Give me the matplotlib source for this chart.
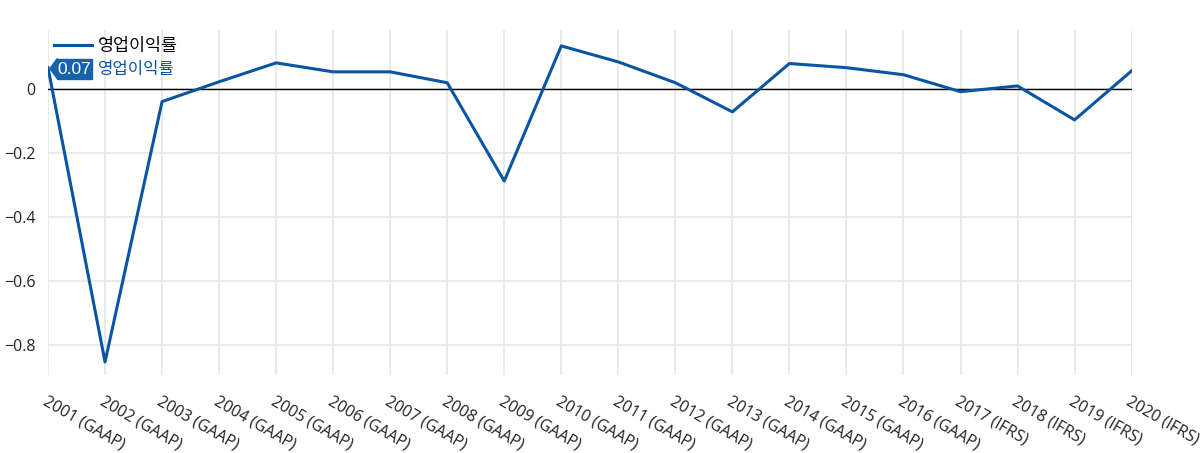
import matplotlib
matplotlib.use('Agg')
import matplotlib.pyplot as plt
from matplotlib.patches import Polygon, Rectangle

plt.rcParams['font.family'] = ['Open Sans', 'Noto Sans CJK KR', 'DejaVu Sans']

# 데이터
years = ['2001 (GAAP)', '2002 (GAAP)', '2003 (GAAP)', '2004 (GAAP)', '2005 (GAAP)',
         '2006 (GAAP)', '2007 (GAAP)', '2008 (GAAP)', '2009 (GAAP)', '2010 (GAAP)',
         '2011 (GAAP)', '2012 (GAAP)', '2013 (GAAP)', '2014 (GAAP)', '2015 (GAAP)',
         '2016 (GAAP)', '2017 (IFRS)', '2018 (IFRS)', '2019 (IFRS)', '2020 (IFRS)']
margin = [0.066, -0.853, -0.04, 0.022, 0.081, 0.053, 0.053, 0.019, -0.288, 0.134,
          0.084, 0.019, -0.072, 0.079, 0.066, 0.044, -0.009, 0.009, -0.097, 0.056]
series_name = '영업이익률'
line_color = '#0a55a3'
tip_color = '#1761ad'

fig = plt.figure(figsize=(12, 4.53), dpi=100)
ax = fig.add_axes([0.04, 0.172, 0.903, 0.762])

x = list(range(len(years)))
ax.plot(x, margin, color=line_color, lw=2.2, zorder=3, label=series_name)
ax.axhline(0, color='black', lw=1, zorder=2)

ax.set_xlim(0, len(years) - 1)
ax.set_ylim(-0.894, 0.184)
ax.set_yticks([-0.8, -0.6, -0.4, -0.2, 0])
ax.set_yticklabels(['−0.8', '−0.6', '−0.4', '−0.2', '0'])
ax.set_xticks(x)
ax.set_xticklabels(years, rotation=-30, ha='left', va='top', rotation_mode='anchor')
ax.grid(True, color='#e6e6e6', lw=1.2, zorder=0)
ax.set_axisbelow(True)
for s in ax.spines.values():
    s.set_visible(False)
ax.tick_params(length=0, labelsize=11.5, colors='#222222')
ax.tick_params(axis='x', pad=13)
ax.tick_params(axis='y', pad=9)

# 범례
leg = ax.legend(loc='upper left', bbox_to_anchor=(-0.001, 1.0), frameon=False,
                handlelength=2.2, handletextpad=0.35, borderaxespad=0,
                prop={'family': ['Noto Sans CJK KR'], 'size': 12.5})

# 툴팁 라벨
ax.add_patch(Rectangle((0.0083, 0.859), 0.0323, 0.058, transform=ax.transAxes,
                       color=tip_color, zorder=5, clip_on=False))
ax.add_patch(Polygon([[0.0018, 0.888], [0.0085, 0.917], [0.0085, 0.859]], closed=True,
                     transform=ax.transAxes, color=tip_color, zorder=5, clip_on=False))
ax.text(0.0245, 0.886, f'{margin[0]:.2f}', transform=ax.transAxes, color='white',
        fontsize=12.5, va='center', ha='center', zorder=6, family=['Liberation Sans'])
ax.text(0.0461, 0.884, series_name, transform=ax.transAxes, color=line_color,
        fontsize=12, va='center', ha='left', family=['Noto Sans CJK KR'])

fig.savefig('out.png', dpi=100, facecolor='white')
